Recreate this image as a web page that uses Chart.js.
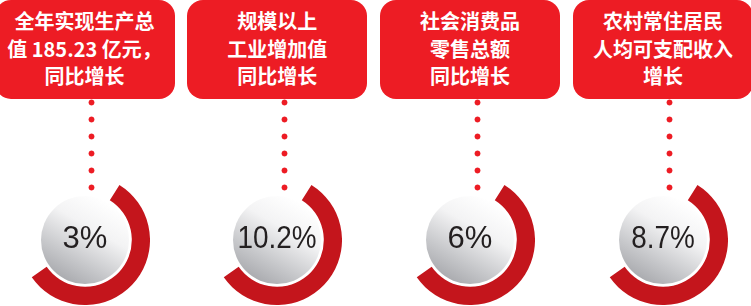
<!DOCTYPE html>
<html lang="zh-CN">
<head>
<meta charset="utf-8">
<title>经济指标同比增长</title>
<script src="https://cdn.jsdelivr.net/npm/chart.js@4.4.1/dist/chart.umd.min.js"></script>
<style>
  html, body { margin: 0; padding: 0; background: #fff; }
  #board { position: relative; width: 751px; height: 306px; overflow: hidden; }
  .card {
    position: absolute; top: 0; width: 180px; height: 99px;
    background: #ed1c24; border-radius: 16px; z-index: 2;
    box-sizing: border-box; padding-top: 7px;
    color: #fff; text-align: center;
    font-family: "Noto Sans CJK SC", "Noto Sans", sans-serif;
    font-weight: bold; font-size: 20px; line-height: 27.5px;
  }
  .dots {
    position: absolute; top: 99px; width: 7px; height: 94px; z-index: 1;
    background: radial-gradient(circle at 3.5px 3.5px, #ed1c24 2.6px, rgba(237,28,36,0) 3.3px);
    background-size: 7px 17px;
  }
  .gauge { position: absolute; top: 175px; width: 130px; height: 130px; }
</style>
</head>
<body>
<div id="board"></div>
<script>
// indicator names (one line per entry) and growth rates in %
const categories = [
  ["全年实现生产总", "值 185.23 亿元，", "同比增长"],
  ["规模以上", "工业增加值", "同比增长"],
  ["社会消费品", "零售总额", "同比增长"],
  ["农村常住居民", "人均可支配收入", "增长"]
];
const growthValues = [3, 10.2, 6, 8.7];

// the red ring is decorative: same sweep for every indicator
const ringSweep = 203;
const ringStart = 32;

const board = document.getElementById("board");
const pitch = 192.8;

// grey sphere + percentage in the middle of each ring
const centerPlugin = {
  id: "centerBall",
  beforeDatasetsDraw(chart) {
    const arc = chart.getDatasetMeta(0).data[0];
    const ctx = chart.ctx;
    const cx = arc.x, cy = arc.y, r = 44;
    const g = ctx.createLinearGradient(cx + 0.5 * r, cy - 0.87 * r, cx - 0.5 * r, cy + 0.87 * r);
    g.addColorStop(0, "#ffffff");
    g.addColorStop(0.35, "#f3f3f4");
    g.addColorStop(0.75, "#c6c7ca");
    g.addColorStop(1, "#abacb0");
    ctx.save();
    ctx.beginPath();
    ctx.arc(cx, cy, r, 0, Math.PI * 2);
    ctx.fillStyle = g;
    ctx.fill();
    ctx.restore();
  },
  afterDatasetsDraw(chart) {
    const arc = chart.getDatasetMeta(0).data[0];
    const ctx = chart.ctx;
    const text = chart.options.plugins.centerBall.text;
    ctx.save();
    ctx.font = "31px 'Liberation Sans', Arial, sans-serif";
    ctx.fillStyle = "#231f20";
    ctx.textAlign = "center";
    ctx.textBaseline = "middle";
    ctx.translate(arc.x, arc.y - 1);
    // longer figures are set a little condensed in the original
    if (text.length > 2) ctx.scale(0.9, 1);
    ctx.fillText(text, 0, 0);
    ctx.restore();
  }
};

categories.forEach((lines, i) => {
  const cx = 84.5 + pitch * i;

  const dots = document.createElement("div");
  dots.className = "dots";
  dots.style.left = (cx + 7 - 3.5) + "px";
  board.appendChild(dots);

  const card = document.createElement("div");
  card.className = "card";
  card.style.left = (cx - 90) + "px";
  card.innerHTML = lines.join("<br>");
  board.appendChild(card);

  const wrap = document.createElement("div");
  wrap.className = "gauge";
  wrap.style.left = (cx - 65) + "px";
  const canvas = document.createElement("canvas");
  canvas.width = 130;
  canvas.height = 130;
  wrap.appendChild(canvas);
  board.appendChild(wrap);

  new Chart(canvas.getContext("2d"), {
    type: "doughnut",
    data: {
      labels: [lines.join(""), ""],
      datasets: [{
        data: [ringSweep, 360 - ringSweep],
        backgroundColor: ["#c4151c", "rgba(0,0,0,0)"],
        borderWidth: 0,
        hoverOffset: 0,
        offset: 0
      }]
    },
    options: {
      responsive: false,
      devicePixelRatio: 1,
      animation: false,
      rotation: ringStart,
      cutout: "72%",
      layout: { padding: 0 },
      events: [],
      plugins: {
        legend: { display: false },
        tooltip: { enabled: false },
        centerBall: { text: growthValues[i] + "%" }
      }
    },
    plugins: [centerPlugin]
  });
});
</script>
</body>
</html>
